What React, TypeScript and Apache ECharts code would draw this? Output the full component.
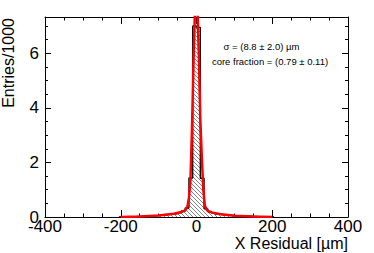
import React, { useEffect, useRef } from "react";
import * as echarts from "echarts";

// Histogram (10 µm bins), bin centres in µm, heights in Entries/1000
const binCenters = [
  -205, -195, -185, -175, -165, -155, -145, -135, -125, -115, -105, -95, -85, -75, -65, -55, -45, -35, -25, -15, -5,
  5, 15, 25, 35, 45, 55, 65, 75, 85, 95, 105, 115, 125, 135, 145, 155, 165, 175, 185, 195, 205,
];
const histValues = [
  0, 0.005, 0.008, 0.01, 0.015, 0.02, 0.025, 0.03, 0.035, 0.04, 0.05, 0.06, 0.07, 0.085, 0.1, 0.12, 0.15, 0.22, 0.33, 1.43, 7.0,
  6.95, 1.42, 0.3, 0.19, 0.14, 0.11, 0.09, 0.08, 0.07, 0.06, 0.05, 0.04, 0.035, 0.03, 0.025, 0.02, 0.015, 0.01, 0.008, 0.005, 0,
];

// Fitted curve (red)
const fitX = [-200, -150, -100, -60, -40, -30, -24, -20, -16, -12, -8, -4, -1, 2, 6, 10, 14, 18, 22, 28, 40, 60, 100, 150, 200];
const fitY = [0.0, 0.02, 0.055, 0.12, 0.18, 0.24, 0.38, 0.7, 1.35, 3.2, 5.6, 7.6, 8.4, 7.9, 6.0, 3.6, 2.2, 1.0, 0.42, 0.24, 0.17, 0.11, 0.05, 0.02, 0.0];

const xTicks = { min: -400, max: 400, interval: 200 };
const yTicks = { min: 0, max: 7.33, interval: 2 };

const annotation1 = "σ = (8.8 ± 2.0) µm";
const annotation2 = "core fraction = (0.79 ± 0.11)";
const xTitle = "X Residual [µm]";
const yTitle = "Entries/1000";

const FONT = "'Liberation Sans', Arial, Helvetica, sans-serif";

export default function App() {
  const ref = useRef<HTMLDivElement>(null);

  useEffect(() => {
    if (!ref.current) return;
    const chart = echarts.init(ref.current, null, { renderer: "svg" });

    const cv = document.createElement("canvas");
    cv.width = 4;
    cv.height = 4;
    const ctx = cv.getContext("2d");
    if (ctx) {
      ctx.fillStyle = "#fff";
      ctx.fillRect(0, 0, 4, 4);
      ctx.strokeStyle = "#666";
      ctx.lineWidth = 0.8;
      ctx.beginPath();
      ctx.moveTo(-1, -1);
      ctx.lineTo(5, 5);
      ctx.moveTo(-1, 3);
      ctx.lineTo(1, 5);
      ctx.moveTo(3, -1);
      ctx.lineTo(5, 1);
      ctx.stroke();
    }

    const axisCommonX = {
      type: "value" as const,
      min: xTicks.min,
      max: xTicks.max,
      interval: xTicks.interval,
      axisLine: { show: true, onZero: false, lineStyle: { color: "#000", width: 1 } },
      axisTick: { show: true, inside: true, length: 7, lineStyle: { color: "#000", width: 1 } },
      minorTick: { show: true, splitNumber: 4, length: 3.5, lineStyle: { color: "#000", width: 1 } },
      splitLine: { show: false },
    };
    const axisCommonY = {
      type: "value" as const,
      min: yTicks.min,
      max: yTicks.max,
      interval: yTicks.interval,
      axisLine: { show: true, onZero: false, lineStyle: { color: "#000", width: 1 } },
      axisTick: { show: true, inside: true, length: 6, lineStyle: { color: "#000", width: 1 } },
      minorTick: { show: true, splitNumber: 4, length: 3, lineStyle: { color: "#000", width: 1 } },
      splitLine: { show: false },
    };

    chart.setOption({
      animation: false,
      backgroundColor: "#fff",
      grid: { left: 45, top: 17, right: 26, bottom: 36, containLabel: false },
      xAxis: [
        {
          ...axisCommonX,
          position: "bottom",
          axisLabel: { show: true, fontSize: 17, color: "#000", margin: 1, fontFamily: FONT },
        },
        { ...axisCommonX, position: "top", axisLabel: { show: false } },
      ],
      yAxis: [
        {
          ...axisCommonY,
          position: "left",
          axisLabel: { show: true, fontSize: 17, color: "#000", margin: 6, fontFamily: FONT, showMaxLabel: false },
        },
        { ...axisCommonY, position: "right", axisLabel: { show: false } },
      ],
      series: [
        {
          type: "line",
          xAxisIndex: 0,
          yAxisIndex: 0,
          data: binCenters.map((x, i) => [x, histValues[i]]),
          step: "middle",
          symbol: "none",
          lineStyle: { color: "#000", width: 1.3 },
          areaStyle: {
            color: { image: cv, repeat: "repeat", imageWidth: 4, imageHeight: 4 } as any,
            opacity: 1,
          },
          z: 2,
        },
        {
          type: "line",
          xAxisIndex: 0,
          yAxisIndex: 0,
          data: fitX.map((x, i) => [x, fitY[i]]),
          symbol: "none",
          lineStyle: { color: "#ff0000", width: 2.5 },
          z: 3,
        },
      ],
      graphic: [
        {
          type: "text",
          x: 261.5,
          y: 46.7,
          style: { text: annotation1, fontSize: 9.5, fontFamily: FONT, fill: "#000", align: "center", verticalAlign: "middle" },
        },
        {
          type: "text",
          x: 270,
          y: 61.7,
          style: { text: annotation2, fontSize: 9.5, fontFamily: FONT, fill: "#000", align: "center", verticalAlign: "middle" },
        },
        {
          type: "text",
          x: 348,
          y: 243.5,
          style: { text: xTitle, fontSize: 16, fontFamily: FONT, fill: "#000", align: "right", verticalAlign: "middle" },
        },
        {
          type: "text",
          x: 8.5,
          y: 18,
          rotation: Math.PI / 2,
          style: { text: yTitle, fontSize: 16, fontFamily: FONT, fill: "#000", align: "right", verticalAlign: "middle" },
        },
      ],
    });

    return () => chart.dispose();
  }, []);

  return <div ref={ref} style={{ position: "fixed", left: 0, top: 0, width: 374, height: 253 }} />;
}
